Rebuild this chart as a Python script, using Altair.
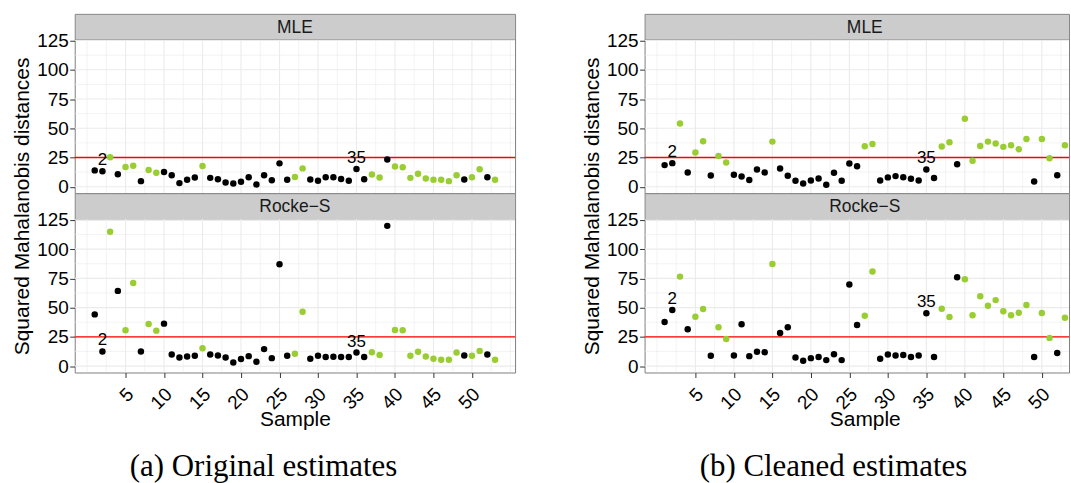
import altair as alt
import pandas as pd

SANS = "Liberation Sans"
SERIF = "Liberation Serif"

SAMPLES = list(range(1, 54))
GREEN_SAMPLES = [3, 5, 6, 8, 9, 15, 27, 28, 37, 38, 40, 41, 42, 43, 44, 45, 46, 47, 48, 50, 51, 53]
LABELED = [2, 35]
THRESHOLD = 25

PANELS = ["MLE", "Rocke\u2212S"]
CAPTIONS = ["(a) Original estimates", "(b) Cleaned estimates"]

A_MLE = [14.0, 13.2, 25.3, 10.7, 16.9, 18.0, 4.8, 14.3, 12.0, 12.6,
         9.8, 3.1, 5.9, 7.9, 17.7, 7.6, 6.5, 3.7, 2.8, 4.2,
         8.1, 2.0, 9.8, 5.6, 20.0, 5.9, 8.4, 15.7, 6.2, 5.1,
         8.1, 8.1, 6.7, 5.1, 15.2, 6.5, 10.4, 7.9, 23.3, 17.4,
         16.6, 7.6, 11.2, 7.0, 5.9, 5.9, 4.8, 9.8, 6.2, 8.1,
         14.9, 8.1, 5.9]
A_ROCKE = [44.2, 12.5, 114.8, 64.3, 30.6, 71.1, 12.5, 36.0, 30.3, 36.3,
           9.9, 7.4, 8.2, 8.8, 15.3, 9.9, 9.1, 7.4, 3.1, 6.0,
           8.5, 3.7, 14.5, 6.8, 87.0, 8.8, 10.5, 46.5, 6.2, 8.8,
           7.7, 7.9, 7.7, 7.7, 11.6, 7.7, 11.9, 9.4, 119.9, 30.9,
           30.6, 8.8, 12.2, 8.2, 6.2, 5.4, 5.4, 11.6, 9.1, 8.8,
           13.0, 9.9, 5.4]
B_MLE = [18.5, 20.2, 54.0, 12.2, 29.3, 38.9, 9.7, 26.4, 20.7, 10.2,
         8.8, 5.7, 14.8, 12.2, 38.6, 15.6, 9.4, 5.1, 2.8, 5.4,
         7.1, 1.7, 11.9, 5.1, 19.9, 17.6, 34.7, 36.6, 5.4, 8.0,
         9.1, 8.2, 6.8, 5.4, 14.8, 7.4, 34.4, 38.1, 19.3, 58.2,
         22.2, 34.9, 38.6, 36.9, 34.1, 35.5, 32.1, 40.9, 4.5, 40.9,
         24.4, 9.9, 35.5]
B_ROCKE = [37.7, 47.9, 76.5, 31.5, 42.2, 48.8, 8.8, 33.2, 23.2, 9.1,
           35.7, 8.5, 12.2, 11.9, 87.3, 28.3, 33.2, 7.4, 4.5, 6.8,
           7.7, 5.1, 10.2, 5.1, 69.7, 35.1, 43.1, 80.8, 6.2, 9.9,
           9.1, 9.4, 7.7, 9.1, 45.1, 7.7, 49.0, 41.9, 76.0, 74.3,
           43.4, 59.8, 51.6, 56.4, 46.8, 43.4, 45.6, 52.2, 7.7, 45.4,
           24.1, 11.1, 41.4]

X_TICKS = [5, 10, 15, 20, 25, 30, 35, 40, 45, 50]
X_MINOR = [0, 2.5, 7.5, 12.5, 17.5, 22.5, 27.5, 32.5, 37.5, 42.5, 47.5, 52.5, 55]
Y_TICKS = [0, 25, 50, 75, 100, 125]
Y_MINOR = [12.5, 37.5, 62.5, 87.5, 112.5]

X_MIN = -1.6
X_MAX_FULL = 55.6
Y_DOMAIN = [-5.5, 125.7]

FULL_W = 442
PANEL_H = 154
STRIP_H = 26
GRID = "#EBEBEB"
TICK_FS = 19
TITLE_FS = 21


def make_df(vals):
    return pd.DataFrame({
        "sample": SAMPLES,
        "d": vals,
        "grp": ["hi" if s in GREEN_SAMPLES else "lo" for s in SAMPLES],
        "lab": [str(s) if s in LABELED else "" for s in SAMPLES],
    })


def strip(name, width, dx):
    return alt.Chart(pd.DataFrame({"name": [name]})).mark_text(
        font=SANS, fontSize=17.5, color="#1A1A1A", baseline="middle", dx=dx, dy=1
    ).encode(text="name:N").properties(
        width=width, height=STRIP_H,
        view=alt.ViewBackground(fill="#CCCCCC", stroke="#888888"),
    )


def panel(vals, width, bottom, ytitle, title_x):
    xmax = X_MIN + (X_MAX_FULL - X_MIN) * width / FULL_W
    xs = alt.Scale(domain=[X_MIN, xmax], nice=False, zero=False)
    ys = alt.Scale(domain=Y_DOMAIN, nice=False, zero=False)
    if bottom:
        xaxis = alt.Axis(values=X_TICKS, grid=False, domain=False, ticks=True,
                         tickSize=5, tickColor="#333333", tickWidth=1,
                         labelAngle=315, labelAlign="right", labelBaseline="top",
                         labelPadding=7, labelFontSize=TICK_FS, labelColor="black",
                         labelFont=SANS, labelOverlap=False, labelFlush=False,
                         labelOffset=-2,
                         title="Sample", titleFontSize=TITLE_FS, titleFontWeight="normal",
                         titleFont=SANS, titleColor="black", titleBaseline="alphabetic",
                         titleY=53, titleX=title_x)
    else:
        xaxis = None
    yargs = dict(values=Y_TICKS, grid=False, domain=False, ticks=True,
                 tickSize=5, tickColor="#333333", tickWidth=1,
                 labelPadding=1.5, labelFontSize=TICK_FS, labelColor="black",
                 labelFont=SANS, labelFlush=False, labelOverlap=False)
    if ytitle:
        yaxis = alt.Axis(title="Squared Mahalanobis distances", titleFontSize=TITLE_FS,
                         titleFontWeight="normal", titleFont=SANS, titleColor="black",
                         titleAngle=270, titleBaseline="alphabetic", titleAlign="center",
                         titleX=-46.5, titleY=166.8, **yargs)
    else:
        yaxis = alt.Axis(title=None, **yargs)

    def X(f):
        return alt.X(f, scale=xs, axis=xaxis)

    def Y(f):
        return alt.Y(f, scale=ys, axis=yaxis)

    minor_x = alt.Chart(pd.DataFrame({"g": X_MINOR})).mark_rule(
        color=GRID, strokeWidth=0.6, clip=True).encode(x=X("g:Q"))
    major_x = alt.Chart(pd.DataFrame({"g": X_TICKS})).mark_rule(
        color=GRID, strokeWidth=1.1, clip=True).encode(x=X("g:Q"))
    minor_y = alt.Chart(pd.DataFrame({"g": Y_MINOR})).mark_rule(
        color=GRID, strokeWidth=0.6, clip=True).encode(y=Y("g:Q"))
    major_y = alt.Chart(pd.DataFrame({"g": Y_TICKS})).mark_rule(
        color=GRID, strokeWidth=1.1, clip=True).encode(y=Y("g:Q"))

    df = make_df(vals)
    base = alt.Chart(df)
    thr = alt.Chart(pd.DataFrame({"t": [THRESHOLD]})).mark_rule(
        color="#FF0000", strokeWidth=1.3).encode(y=Y("t:Q"))
    pts = base.mark_circle(size=42, opacity=1).encode(
        x=X("sample:Q"), y=Y("d:Q"),
        color=alt.Color("grp:N", scale=alt.Scale(domain=["lo", "hi"],
                                                 range=["#000000", "#9ACD32"]),
                        legend=None),
    )
    txt = base.transform_filter("datum.lab != ''").mark_text(
        font=SANS, fontSize=17, color="black", baseline="alphabetic", dy=-6
    ).encode(x=X("sample:Q"), y=Y("d:Q"), text="lab:N")

    return alt.layer(minor_x, minor_y, major_x, major_y, thr, pts, txt).properties(
        width=width, height=PANEL_H)


def column(mle, rocke, caption, width, shift):
    cx = FULL_W / 2
    return alt.vconcat(
        strip(PANELS[0], width, shift),
        panel(mle, width, False, True, cx),
        strip(PANELS[1], width, shift),
        panel(rocke, width, True, False, cx),
        spacing=0, bounds="flush",
        title=alt.TitleParams(caption, orient="bottom", anchor="middle",
                              font=SERIF, fontSize=31, fontWeight="normal",
                              color="black", baseline="alphabetic", offset=46,
                              dx=shift),
    )


RIGHT_W = 426
col_a = column(A_MLE, A_ROCKE, CAPTIONS[0], FULL_W, 0)
col_b = column(B_MLE, B_ROCKE, CAPTIONS[1], RIGHT_W, (FULL_W - RIGHT_W) / 2)

chart = alt.hconcat(col_a, col_b, spacing=63).configure(
    font=SANS,
    padding={"left": 10, "top": 12, "right": 0, "bottom": 0},
    background="white",
).configure_view(stroke="#7F7F7F", strokeWidth=1)

chart.save("out.html", embed_options={"renderer": "svg", "actions": False})
